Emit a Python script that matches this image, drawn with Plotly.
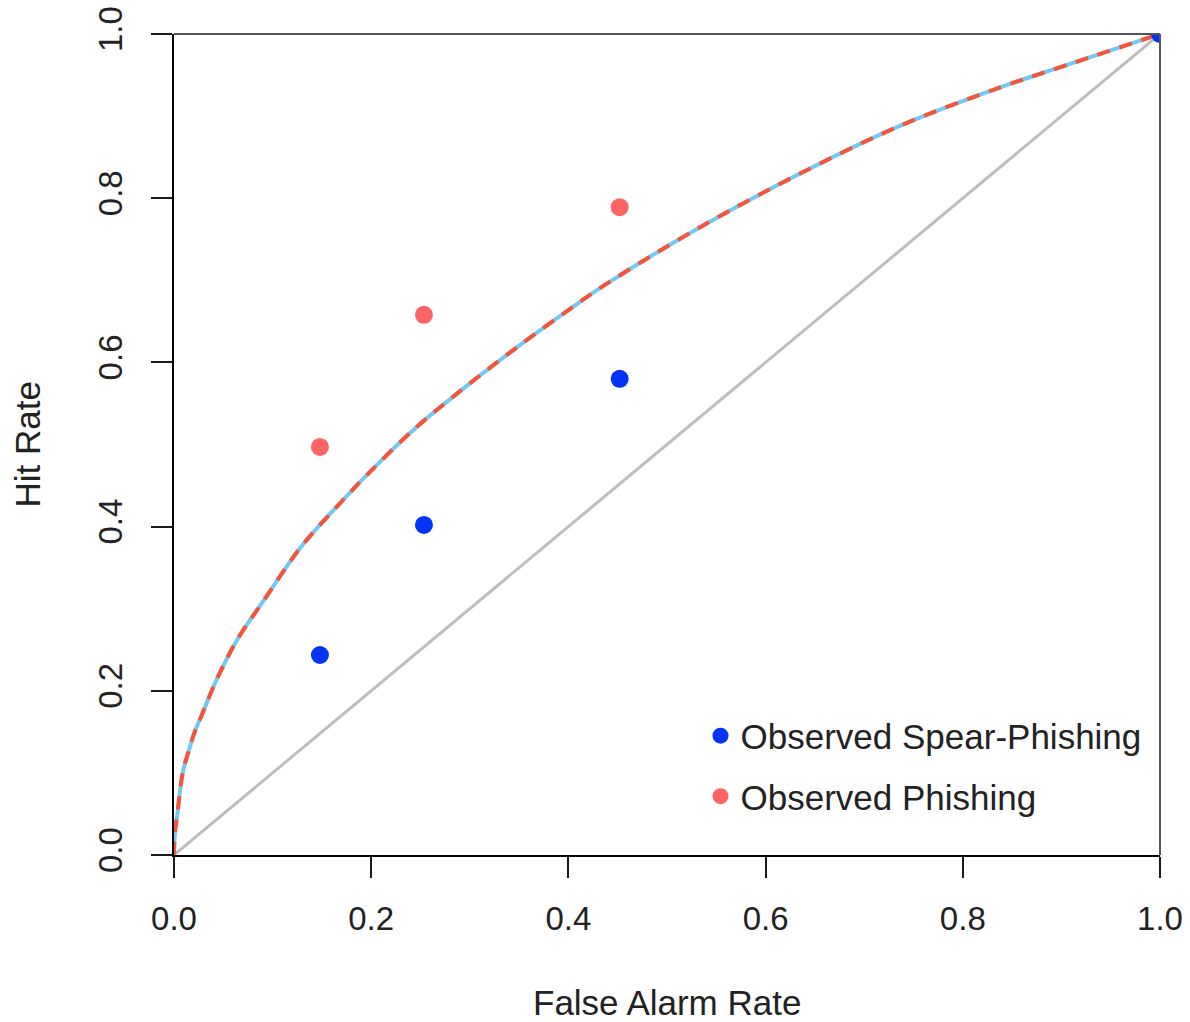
import plotly.graph_objects as go

# Fitted ROC curve
far_curve = [0.0, 0.0008, 0.0034, 0.0088, 0.015, 0.021, 0.028, 0.043, 0.064, 0.091,
             0.128, 0.168, 0.199, 0.243, 0.287, 0.344, 0.405, 0.439, 0.534, 0.635,
             0.736, 0.838, 0.905, 1.0]
hit_curve = [0.0, 0.025, 0.050, 0.100, 0.127, 0.150, 0.170, 0.213, 0.262, 0.310,
             0.374, 0.428, 0.467, 0.518, 0.562, 0.615, 0.668, 0.696, 0.765, 0.830,
             0.888, 0.935, 0.962, 1.0]

# Chance diagonal
diag_x = [0.0, 1.0]
diag_y = [0.0, 1.0]

# Observed points
spear_far = [0.148, 0.2535, 0.452, 1.0]
spear_hit = [0.2436, 0.402, 0.580, 1.0]
phish_far = [0.148, 0.2535, 0.452]
phish_hit = [0.497, 0.658, 0.789]

x_ticks = [0.0, 0.2, 0.4, 0.6, 0.8, 1.0]
tick_text = ["0.0", "0.2", "0.4", "0.6", "0.8", "1.0"]

FONT = "Liberation Sans, Arial, sans-serif"

fig = go.Figure()
fig.add_trace(go.Scatter(x=diag_x, y=diag_y, mode="lines",
                         line=dict(color="#BEBEBE", width=3), showlegend=False,
                         hoverinfo="skip"))
fig.add_trace(go.Scatter(x=far_curve, y=hit_curve, mode="lines",
                         line=dict(color="#74C8F2", width=4, shape="spline", smoothing=1.0),
                         showlegend=False))
fig.add_trace(go.Scatter(x=far_curve, y=hit_curve, mode="lines",
                         line=dict(color="#F4553A", width=4, shape="spline", smoothing=1.0,
                                   dash="13px,10px"),
                         showlegend=False))
fig.add_trace(go.Scatter(x=spear_far, y=spear_hit, mode="markers",
                         marker=dict(color="#0033F5", size=18),
                         name="Observed Spear-Phishing", legendgroup="a", cliponaxis=True))
fig.add_trace(go.Scatter(x=phish_far, y=phish_hit, mode="markers",
                         marker=dict(color="#FF6464", size=18),
                         name="Observed Phishing", legendgroup="b", cliponaxis=True))

axis_common = dict(
    range=[0, 1], showgrid=False, zeroline=False, showline=True, automargin=False,
    linecolor="black", linewidth=2, ticks="outside", ticklen=21, tickwidth=2,
    tickcolor="#1a1a1a", tickvals=x_ticks, ticktext=tick_text,
    tickfont=dict(family=FONT, size=33, color="#222222"),
    ticklabeloverflow="allow",
)

fig.update_xaxes(**axis_common, ticklabelstandoff=12)
fig.update_yaxes(**axis_common, tickangle=-90, ticklabelstandoff=16)

# top & right box lines
fig.add_shape(type="line", xref="paper", yref="paper", x0=0, x1=1, y0=1, y1=1,
              line=dict(color="#555555", width=2))
fig.add_shape(type="line", xref="paper", yref="paper", x0=1, x1=1, y0=0, y1=1,
              line=dict(color="#555555", width=2))

fig.add_annotation(text="False Alarm Rate", xref="paper", yref="paper", x=0.5, y=-0.180,
                   xanchor="center", yanchor="middle", showarrow=False,
                   font=dict(family=FONT, size=35, color="#222222"))
fig.add_annotation(text="Hit Rate", xref="paper", yref="paper", x=-0.149, y=0.5,
                   xanchor="center", yanchor="middle", showarrow=False, textangle=-90,
                   font=dict(family=FONT, size=35, color="#222222"))

fig.update_layout(
    width=1190, height=1022,
    margin=dict(l=174, r=30, t=34, b=167, autoexpand=False),
    plot_bgcolor="white", paper_bgcolor="white",
    showlegend=True,
    legend=dict(x=0.534, y=0.181, xanchor="left", yanchor="top",
                font=dict(family=FONT, size=35, color="#222222"),
                bgcolor="rgba(0,0,0,0)", traceorder="grouped", tracegroupgap=12),
)

fig.write_html("out.html", config={"displayModeBar": False},
               post_script="document.body.style.margin='0';document.body.style.overflow='hidden';")
